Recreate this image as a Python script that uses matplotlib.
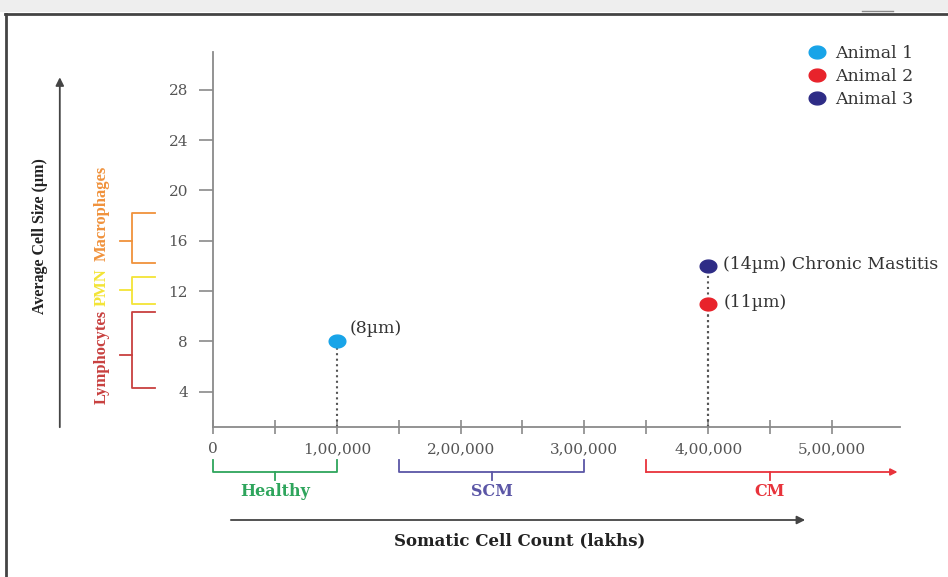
import matplotlib.pyplot as plt
from matplotlib.transforms import blended_transform_factory
from matplotlib.lines import Line2D
from matplotlib.patches import Rectangle
from matplotlib.path import Path
import numpy as np

# data
animals = ["Animal 1", "Animal 2", "Animal 3"]
scc = [100000, 400000, 400000]
cell_size = [8, 11, 14]
point_labels = ["(8\u00b5m)", "(11\u00b5m)", "(14\u00b5m) Chronic Mastitis"]
colors = ["#18a4e8", "#e8232b", "#2e2c86"]

x_major = [0, 100000, 200000, 300000, 400000, 500000]
x_major_labels = ["0", "1,00,000", "2,00,000", "3,00,000", "4,00,000", "5,00,000"]
x_minor = [50000, 150000, 250000, 350000, 450000]
y_ticks = [4, 8, 12, 16, 20, 24, 28]

# cell type ranges (um): name, low, high, mid, colour
cell_types = [("Macrophages", 14.2, 18.2, 16.0, "#f0923c"),
              ("PMN", 11.0, 13.1, 12.1, "#f3e436"),
              ("Lymphocytes", 4.3, 10.35, 6.9, "#c8403f")]
label_y = {"Macrophages": 18.2, "PMN": 12.3, "Lymphocytes": 6.8}

# SCC stages: name, start, end, mid, colour
stages = [("Healthy", 0, 100000, 50000, "#2ea55c"),
          ("SCM", 150000, 300000, 225000, "#5b56a6"),
          ("CM", 350000, 553000, 450000, "#e8333b")]

wide = "DejaVu Serif"      # horizontal text (reference is stretched sideways)
tall = "Liberation Serif"  # rotated text
plt.rcParams['font.family'] = wide

# slightly flattened dot
t = np.linspace(0, 2 * np.pi, 60)
ellipse = Path(np.column_stack([1.3 * np.cos(t), np.sin(t)]), closed=True)

fig = plt.figure(figsize=(9.48, 5.77), dpi=100)
fig.patches.append(Rectangle((0, 1 - 12/577), 1, 12/577, transform=fig.transFigure,
                             facecolor="#eeeeee", edgecolor="none"))
fig.add_artist(Line2D([5/948, 1], [1 - 14/577, 1 - 14/577], color="#444444", lw=2))
fig.add_artist(Line2D([6/948, 6/948], [0, 1 - 14/577], color="#444444", lw=2))
fig.add_artist(Line2D([862/948, 893/948], [1 - 11/577, 1 - 11/577], color="#888888", lw=1))

ax = fig.add_axes([213/948, 150/577, 687/948, 375/577])
ax.set_xlim(0, 555000)
ax.set_ylim(1.2, 31)

for s in ["top", "right"]:
    ax.spines[s].set_visible(False)
for s in ["left", "bottom"]:
    ax.spines[s].set_color("#8a8a8a")
    ax.spines[s].set_linewidth(1.3)

ax.set_yticks(y_ticks)
ax.set_xticks(x_major)
ax.set_xticklabels(x_major_labels)
ax.set_xticks(x_minor, minor=True)
ax.tick_params(axis="y", direction="out", length=10, width=1.2, color="#8a8a8a",
               labelsize=11, labelcolor="#555555", pad=8)
ax.tick_params(axis="x", which="both", direction="inout", length=10, width=1.2,
               color="#8a8a8a", labelsize=11, labelcolor="#555555", pad=6)

# dotted drops and points
for x, y in zip(scc, cell_size):
    ax.plot([x, x], [1.2, y], ls=":", color="#555555", lw=1.5, zorder=2)
for x, y, c, name, lab in zip(scc, cell_size, colors, animals, point_labels):
    ax.plot(x, y, marker=ellipse, ls="none", color=c, ms=12, label=name, zorder=3,
            clip_on=False)
    if y == 8:
        ax.annotate(lab, (x, y), xytext=(9, 9), textcoords="offset points",
                    fontsize=12.5, color="#333333", va="center", annotation_clip=False)
    else:
        ax.annotate(lab, (x, y), xytext=(11, 1), textcoords="offset points",
                    fontsize=12.5, color="#333333", va="center", annotation_clip=False)

ax.legend(loc="upper left", bbox_to_anchor=(793/948, 1 - 29/577),
          bbox_transform=fig.transFigure, frameon=False, fontsize=12.5,
          handlelength=1.0, handletextpad=0.5, labelspacing=0.36,
          labelcolor="#333333", markerscale=1.0)

# left side: cell type brackets
tr_y = blended_transform_factory(ax.transAxes, ax.transData)
xv, xr, xm, xl = -0.118, -0.0844, -0.135, -0.1616
for name, lo, hi, mid, c in cell_types:
    ax.plot([xr, xv, xv, xr], [hi, hi, lo, lo], color=c, lw=1.3,
            transform=tr_y, clip_on=False)
    ax.plot([xm, xv], [mid, mid], color=c, lw=1.3, transform=tr_y, clip_on=False)
    ax.text(xl, label_y[name], name, rotation=90, color=c, fontsize=12,
            fontweight="bold", family=tall, ha="center", va="center", transform=tr_y)

ax.annotate("", xy=(-0.223, 0.94), xytext=(-0.223, -0.008), xycoords="axes fraction",
            arrowprops=dict(arrowstyle="-|>", color="#444444", lw=1.3,
                            mutation_scale=12), annotation_clip=False)
ax.text(-0.252, 0.51, "Average Cell Size (\u00b5m)", rotation=90, fontsize=11.5,
        fontweight="bold", family=tall, color="#222222", ha="center", va="center",
        transform=ax.transAxes)

# bottom: SCC stage brackets
tr_x = blended_transform_factory(ax.transData, ax.transAxes)
yt, yh, ym, yl = -0.088, -0.12, -0.141, -0.172
for name, a, b, mid, c in stages:
    if name == "CM":
        ax.plot([a, a], [yt, yh], color=c, lw=1.3, transform=tr_x, clip_on=False)
        ax.annotate("", xy=(b, yh), xytext=(a, yh), xycoords=tr_x,
                    arrowprops=dict(arrowstyle="-|>", color=c, lw=1.3,
                                    mutation_scale=10, shrinkA=0, shrinkB=0),
                    annotation_clip=False)
    else:
        ax.plot([a, a, b, b], [yt, yh, yh, yt], color=c, lw=1.3,
                transform=tr_x, clip_on=False)
    ax.plot([mid, mid], [yh, ym], color=c, lw=1.3, transform=tr_x, clip_on=False)
    ax.text(mid, yl, name, color=c, fontsize=11.5, fontweight="bold",
            ha="center", va="center", transform=tr_x)

ax.annotate("", xy=(0.866, -0.248), xytext=(0.022, -0.248), xycoords="axes fraction",
            arrowprops=dict(arrowstyle="-|>", color="#444444", lw=1.3,
                            mutation_scale=12), annotation_clip=False)
ax.text(0.447, -0.304, "Somatic Cell Count (lakhs)", fontsize=12,
        fontweight="bold", color="#222222", ha="center", va="center",
        transform=ax.transAxes)

fig.savefig("out.png", dpi=100)
